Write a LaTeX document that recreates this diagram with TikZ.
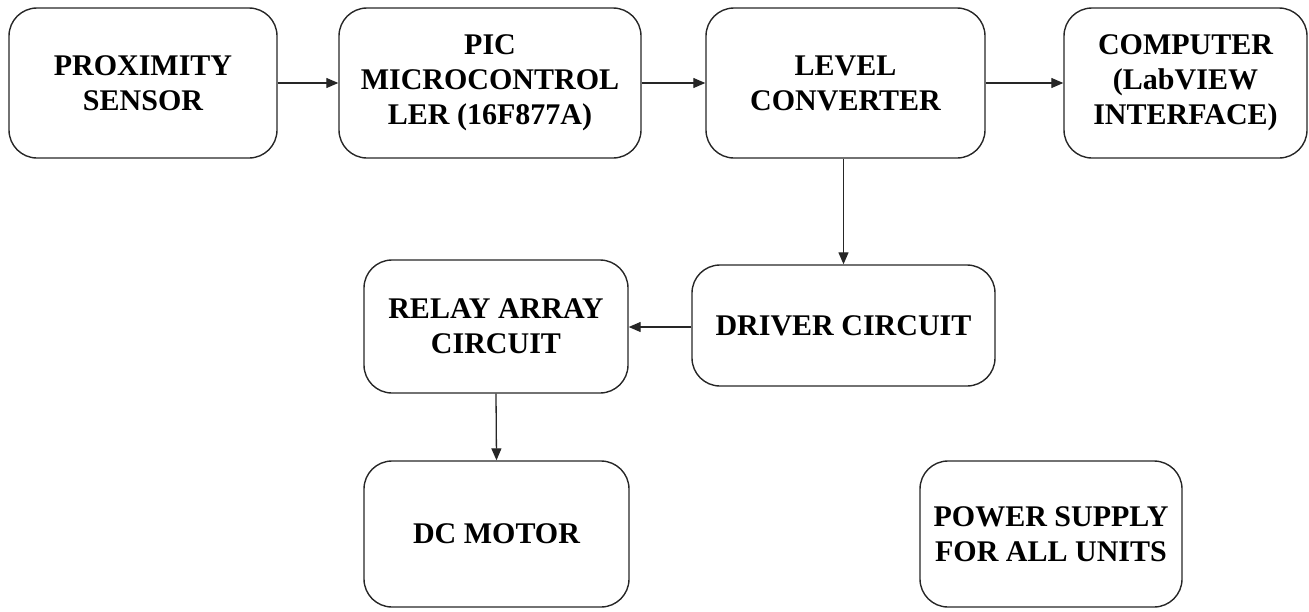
\documentclass[tikz,border=0pt]{standalone}
\usepackage{fontspec}
\setmainfont{Liberation Serif}[BoldFont={Liberation Serif Bold}]
\usetikzlibrary{arrows.meta}
\begin{document}
\begin{tikzpicture}[x=1pt,y=-1pt,
  blk/.style={draw=black!85, line width=1.4pt, rounded corners=28pt, align=center,
    font=\bfseries\fontsize{30}{35}\selectfont, inner sep=0pt},
  conn/.style={draw=black!85, line width=1.3pt, -{Triangle[length=12pt,width=10pt]}}]
\useasboundingbox (0,0) rectangle (1309,611);
\node[blk, minimum width=268pt, minimum height=150pt] (prox) at (143,83) {PROXIMITY\\SENSOR};
\node[blk, minimum width=302pt, minimum height=150pt] (pic) at (490,83) {PIC\\MICROCONTROL\\LER (16F877A)};
\node[blk, minimum width=279pt, minimum height=150pt] (lvl) at (845.5,83) {LEVEL\\CONVERTER};
\node[blk, minimum width=243pt, minimum height=150pt] (comp) at (1185.5,83) {COMPUTER\\(LabVIEW\\INTERFACE)};
\node[blk, minimum width=264pt, minimum height=133pt] (relay) at (496,326.5) {RELAY ARRAY\\CIRCUIT};
\node[blk, minimum width=303pt, minimum height=121pt] (drv) at (843.5,325.5) {DRIVER CIRCUIT};
\node[blk, minimum width=265pt, minimum height=146pt] (motor) at (496.5,534) {DC MOTOR};
\node[blk, minimum width=262pt, minimum height=146pt] (pwr) at (1051,534) {POWER SUPPLY\\FOR ALL UNITS};
\draw[conn] (prox.east) -- (pic.west);
\draw[conn] (pic.east) -- (lvl.west);
\draw[conn] (lvl.east) -- (comp.west);
\draw[conn] (lvl.south -| drv.north) -- (drv.north);
\draw[conn] (drv.west |- 0,327) -- (relay.east |- 0,327);
\draw[conn] (relay.south) -- (motor.north);
\end{tikzpicture}
\end{document}
